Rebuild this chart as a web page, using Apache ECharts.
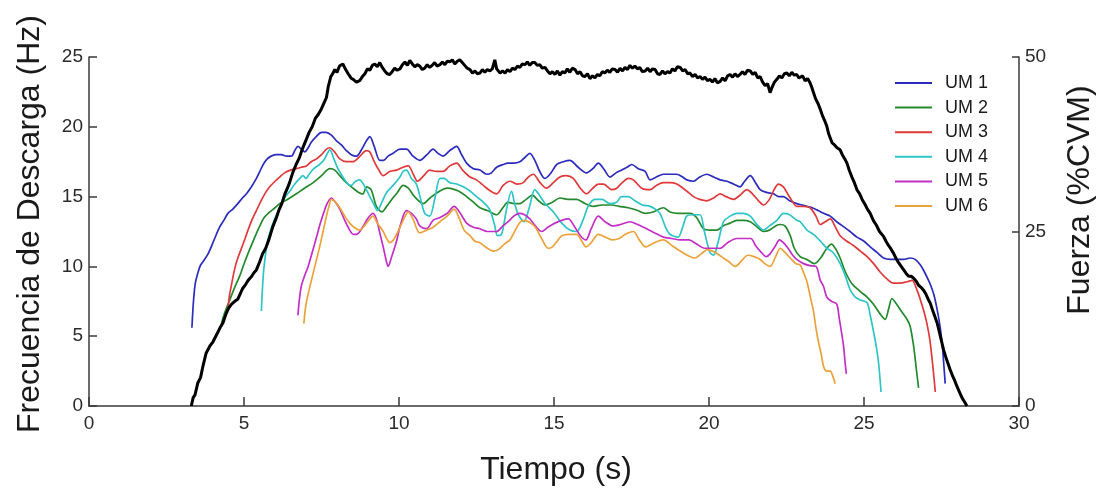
<!DOCTYPE html>
<html>
<head>
<meta charset="utf-8">
<script src="https://cdn.jsdelivr.net/npm/echarts@6/dist/echarts.min.js"></script>
<style>
  html, body { margin: 0; padding: 0; background: #ffffff; }
  #chart { width: 1097px; height: 493px; }
</style>
</head>
<body>
<div id="chart"></div>
<script>
// Motor unit discharge rates (Hz) and force (%CVM) over time (s): [t, value]
const unitNames = ['UM 1', 'UM 2', 'UM 3', 'UM 4', 'UM 5', 'UM 6'];
const unitColors = ['#2b2bbd', '#24892e', '#e0393b', '#2fc4c6', '#c22fc6', '#eaa23a'];

const um1 = [[3.32,5.6],[3.37,7.5],[3.43,8.8],[3.52,9.6],[3.60,10.1],[3.70,10.4],[3.84,10.9],[3.98,11.6],[4.11,12.3],[4.21,12.8],[4.35,13.3],[4.48,13.8],[4.64,14.1],[4.80,14.5],[4.95,14.9],[5.08,15.2],[5.24,15.7],[5.40,16.3],[5.51,16.8],[5.62,17.3],[5.75,17.7],[5.88,17.9],[6.05,18.0],[6.21,18.0],[6.37,17.9],[6.53,17.9],[6.64,18.3],[6.74,18.6],[6.85,18.4],[6.96,18.2],[7.07,18.5],[7.17,18.9],[7.33,19.3],[7.50,19.6],[7.65,19.6],[7.82,19.4],[7.98,19.0],[8.14,18.7],[8.30,18.3],[8.46,18.0],[8.63,17.9],[8.80,18.4],[8.95,19.0],[9.06,19.3],[9.20,18.6],[9.38,17.6],[9.50,17.6],[9.65,17.9],[9.81,18.1],[10.03,18.4],[10.24,18.4],[10.45,17.9],[10.67,17.6],[10.90,18.0],[11.10,18.4],[11.26,18.1],[11.42,17.9],[11.64,18.3],[11.86,18.6],[12.02,18.0],[12.18,17.4],[12.40,17.0],[12.61,16.9],[12.83,16.6],[12.98,16.7],[13.15,17.1],[13.36,17.3],[13.52,17.4],[13.70,17.4],[13.90,17.5],[14.06,17.8],[14.22,18.1],[14.38,17.6],[14.54,16.8],[14.70,16.3],[14.87,16.6],[15.09,17.3],[15.30,17.5],[15.51,17.6],[15.78,17.1],[16.05,16.7],[16.25,17.0],[16.43,17.4],[16.60,17.0],[16.81,16.4],[17.00,16.7],[17.18,16.9],[17.35,17.1],[17.51,17.3],[17.72,17.0],[17.94,16.8],[18.10,16.2],[18.30,16.4],[18.53,16.6],[18.74,16.6],[18.96,16.6],[19.15,16.4],[19.28,16.2],[19.50,16.1],[19.70,16.4],[19.93,16.6],[20.15,16.4],[20.36,16.2],[20.58,16.1],[20.79,15.9],[21.00,15.7],[21.15,16.1],[21.33,16.5],[21.50,16.0],[21.65,15.5],[21.85,15.3],[22.08,15.2],[22.25,15.0],[22.40,15.0],[22.60,14.7],[22.83,14.5],[23.00,14.4],[23.16,14.3],[23.33,14.2],[23.48,14.05],[23.70,13.8],[23.91,13.6],[24.12,13.2],[24.34,12.85],[24.55,12.5],[24.77,12.1],[25.00,11.8],[25.20,11.4],[25.42,11.0],[25.63,10.6],[25.85,10.5],[26.06,10.5],[26.28,10.5],[26.49,10.6],[26.65,10.5],[26.82,10.1],[26.95,9.6],[27.06,9.1],[27.14,8.7],[27.25,8.0],[27.36,6.9],[27.46,5.6],[27.54,4.0],[27.58,2.8],[27.62,1.6]];

const um2 = [[4.27,5.9],[4.35,6.5],[4.45,7.1],[4.54,7.6],[4.70,8.5],[4.86,9.3],[5.02,10.3],[5.18,11.2],[5.35,12.1],[5.51,12.9],[5.65,13.5],[5.83,13.9],[6.00,14.2],[6.15,14.5],[6.40,14.8],[6.69,15.2],[6.95,15.6],[7.23,16.0],[7.50,16.5],[7.77,17.0],[7.93,16.9],[8.09,16.5],[8.30,16.0],[8.52,15.6],[8.70,15.3],[8.84,15.2],[8.95,15.7],[9.10,15.5],[9.27,14.3],[9.45,13.9],[9.60,14.3],[9.80,14.9],[9.95,15.3],[10.13,15.8],[10.30,15.6],[10.50,15.0],[10.78,14.5],[11.00,14.9],[11.32,15.4],[11.55,15.6],[11.80,15.5],[12.00,15.3],[12.18,15.0],[12.40,14.6],[12.61,14.2],[12.85,14.0],[13.15,13.7],[13.35,14.2],[13.52,14.6],[13.70,14.5],[13.90,14.5],[14.10,14.8],[14.30,15.1],[14.50,14.7],[14.71,14.4],[14.95,14.6],[15.19,14.9],[15.45,14.8],[15.73,14.8],[16.00,14.5],[16.27,14.3],[16.55,14.4],[16.86,14.4],[17.10,14.3],[17.40,14.2],[17.70,14.0],[17.94,13.8],[18.20,13.9],[18.53,14.2],[18.74,13.9],[19.00,13.8],[19.39,13.8],[19.60,13.5],[19.82,12.7],[20.03,12.6],[20.25,12.6],[20.45,12.9],[20.68,13.1],[20.90,13.3],[21.11,13.3],[21.33,13.2],[21.54,12.85],[21.76,12.5],[21.95,12.6],[22.15,12.9],[22.30,13.0],[22.45,12.9],[22.62,12.2],[22.75,11.3],[22.94,10.7],[23.16,10.5],[23.40,10.2],[23.60,10.6],[23.80,11.3],[23.95,11.6],[24.10,11.2],[24.23,10.6],[24.40,9.6],[24.60,8.8],[24.88,8.2],[25.10,7.8],[25.30,7.3],[25.52,6.6],[25.68,6.2],[25.80,7.0],[25.90,7.7],[26.05,7.3],[26.20,6.8],[26.39,6.2],[26.49,5.7],[26.60,4.3],[26.68,2.8],[26.76,1.3]];

const um3 = [[4.48,6.9],[4.53,7.9],[4.59,8.6],[4.64,9.2],[4.72,10.0],[4.80,10.6],[4.97,11.6],[5.13,12.6],[5.27,13.4],[5.40,14.0],[5.55,14.7],[5.70,15.3],[5.83,15.7],[6.00,16.1],[6.15,16.4],[6.31,16.7],[6.50,16.9],[6.69,17.0],[6.85,17.1],[7.01,17.2],[7.17,17.5],[7.34,17.7],[7.50,18.0],[7.66,18.4],[7.77,18.5],[7.92,18.2],[8.09,17.7],[8.30,17.5],[8.52,17.5],[8.70,17.8],[8.95,18.3],[9.06,18.2],[9.20,17.5],[9.35,16.9],[9.49,16.5],[9.70,16.8],[9.92,16.9],[10.13,17.1],[10.30,17.2],[10.46,16.6],[10.60,16.1],[10.80,16.5],[10.99,16.9],[11.20,16.8],[11.42,16.8],[11.64,17.2],[11.86,17.4],[12.05,16.9],[12.29,16.4],[12.50,16.2],[12.72,15.8],[12.95,15.4],[13.15,15.2],[13.36,15.8],[13.58,16.1],[13.80,15.9],[14.01,16.0],[14.17,16.4],[14.33,16.6],[14.55,16.0],[14.76,15.6],[14.98,16.0],[15.19,16.4],[15.40,16.5],[15.62,16.3],[15.85,15.6],[16.05,15.2],[16.25,15.6],[16.43,15.9],[16.60,15.9],[16.86,15.5],[17.02,15.6],[17.20,16.0],[17.40,16.3],[17.56,16.2],[17.83,15.6],[18.10,15.5],[18.30,15.8],[18.53,16.0],[18.74,16.0],[18.96,15.9],[19.28,15.4],[19.50,15.0],[19.70,14.8],[19.93,14.7],[20.15,14.9],[20.36,15.2],[20.55,15.0],[20.79,14.8],[21.00,15.1],[21.22,15.5],[21.40,15.2],[21.60,14.7],[21.76,14.4],[21.95,14.8],[22.10,15.5],[22.24,15.9],[22.40,15.7],[22.51,15.3],[22.65,14.8],[22.83,14.3],[23.05,14.3],[23.26,14.2],[23.45,13.6],[23.59,13.0],[23.75,13.2],[23.91,13.4],[24.08,12.8],[24.23,12.2],[24.45,11.8],[24.66,11.5],[24.88,11.1],[25.10,10.7],[25.31,10.2],[25.52,9.6],[25.74,9.1],[25.95,8.8],[26.17,8.8],[26.39,8.9],[26.55,9.0],[26.71,8.3],[26.82,7.6],[26.93,6.8],[27.03,5.9],[27.12,4.8],[27.19,3.5],[27.25,2.2],[27.30,1.0]];

const um4 = [[5.56,6.8],[5.59,8.2],[5.63,9.6],[5.68,10.6],[5.74,11.6],[5.83,12.4],[5.99,13.4],[6.15,14.2],[6.31,14.9],[6.48,15.4],[6.64,15.9],[6.80,16.3],[6.90,16.5],[7.00,16.3],[7.10,16.6],[7.25,17.0],[7.44,17.3],[7.60,17.7],[7.77,18.35],[7.90,17.7],[8.03,17.0],[8.19,16.4],[8.35,15.9],[8.45,15.8],[8.60,16.1],[8.73,16.2],[8.90,15.7],[9.06,15.0],[9.20,14.4],[9.30,14.0],[9.45,14.6],[9.60,15.3],[9.81,15.8],[10.03,16.4],[10.13,16.8],[10.24,16.9],[10.40,16.3],[10.56,15.9],[10.70,14.8],[10.83,13.8],[10.99,13.6],[11.15,14.8],[11.32,16.3],[11.45,16.3],[11.64,16.0],[11.86,15.9],[12.07,15.7],[12.29,15.4],[12.50,15.0],[12.72,14.6],[12.93,14.05],[13.08,13.0],[13.18,12.2],[13.31,12.3],[13.47,14.1],[13.63,15.4],[13.72,14.6],[13.85,13.7],[14.03,13.2],[14.20,14.2],[14.38,15.5],[14.50,15.2],[14.71,14.5],[14.98,13.9],[15.25,13.1],[15.51,12.6],[15.73,12.5],[15.95,13.4],[16.10,14.3],[16.32,14.8],[16.55,14.8],[16.80,14.5],[17.02,14.6],[17.18,15.0],[17.40,15.0],[17.61,14.7],[17.85,14.4],[18.10,14.3],[18.30,14.05],[18.42,13.8],[18.60,12.8],[18.74,12.3],[19.00,12.1],[19.15,12.8],[19.28,13.6],[19.50,13.7],[19.71,13.7],[19.85,12.5],[20.03,11.0],[20.15,10.8],[20.30,11.8],[20.47,13.2],[20.68,13.6],[20.90,13.8],[21.11,13.8],[21.33,13.6],[21.55,13.0],[21.76,12.6],[21.95,12.9],[22.19,13.3],[22.40,13.8],[22.60,13.7],[22.83,13.3],[22.94,13.2],[23.16,12.6],[23.37,12.3],[23.60,11.8],[23.80,11.3],[24.00,11.0],[24.23,10.2],[24.40,9.3],[24.56,8.3],[24.72,7.8],[24.88,7.6],[25.10,7.4],[25.20,6.5],[25.31,5.3],[25.40,4.2],[25.47,3.1],[25.55,1.0]];

const um5 = [[6.74,6.5],[6.78,7.5],[6.85,8.6],[6.95,9.3],[7.07,10.0],[7.20,11.0],[7.34,12.1],[7.45,13.0],[7.55,13.7],[7.68,14.5],[7.82,14.9],[7.95,14.6],[8.09,14.1],[8.25,13.3],[8.41,12.6],[8.52,12.3],[8.63,12.3],[8.84,12.85],[8.98,13.4],[9.16,13.8],[9.27,13.4],[9.38,12.4],[9.50,11.3],[9.60,10.3],[9.65,10.0],[9.75,10.6],[9.92,11.8],[10.05,13.0],[10.24,14.0],[10.40,13.8],[10.56,13.4],[10.67,12.9],[10.89,12.7],[11.10,13.3],[11.32,13.5],[11.55,13.8],[11.78,14.3],[11.95,13.9],[12.18,13.1],[12.40,12.8],[12.61,12.7],[12.85,12.5],[13.15,12.5],[13.35,12.9],[13.52,13.2],[13.70,13.6],[13.88,13.8],[14.05,13.7],[14.22,13.4],[14.40,12.9],[14.60,12.5],[14.80,12.8],[15.03,13.1],[15.25,13.3],[15.46,13.4],[15.65,12.9],[15.85,12.2],[16.03,11.9],[16.20,12.7],[16.43,13.6],[16.65,13.2],[16.91,12.9],[17.15,13.0],[17.45,13.2],[17.70,13.0],[17.99,12.7],[18.25,12.4],[18.53,12.1],[18.80,12.0],[19.07,11.9],[19.35,11.9],[19.60,11.6],[19.85,11.3],[20.10,11.3],[20.36,11.3],[20.60,11.7],[20.90,12.0],[21.15,12.0],[21.35,12.0],[21.50,11.5],[21.65,11.1],[21.85,10.7],[21.97,10.9],[22.15,11.5],[22.27,11.9],[22.40,11.7],[22.55,11.3],[22.70,10.8],[22.83,10.5],[23.05,10.2],[23.26,10.05],[23.45,10.0],[23.59,9.0],[23.69,8.6],[23.80,7.8],[23.95,7.5],[24.12,7.3],[24.20,6.3],[24.28,5.2],[24.34,4.3],[24.40,2.9],[24.43,2.3]];

const um6 = [[6.93,5.9],[6.97,6.8],[7.01,7.4],[7.12,8.5],[7.23,9.5],[7.34,10.5],[7.44,11.4],[7.55,12.5],[7.66,13.6],[7.74,14.3],[7.82,14.8],[7.95,14.6],[8.09,14.2],[8.25,13.6],[8.41,13.1],[8.55,12.8],[8.73,12.6],[8.95,13.1],[9.16,13.6],[9.30,13.1],[9.49,12.5],[9.60,12.0],[9.70,11.7],[9.85,12.0],[10.03,12.8],[10.20,13.6],[10.30,13.9],[10.45,13.4],[10.67,12.4],[10.90,12.6],[11.10,12.8],[11.32,13.2],[11.55,13.6],[11.78,14.1],[11.95,13.4],[12.10,12.6],[12.29,12.2],[12.45,11.8],[12.61,11.7],[12.85,11.3],[13.04,11.1],[13.20,11.2],[13.40,11.6],[13.58,11.9],[13.75,12.6],[13.92,13.2],[14.05,13.3],[14.25,13.1],[14.40,12.8],[14.60,12.0],[14.81,11.3],[14.95,11.4],[15.10,11.8],[15.25,12.2],[15.50,12.3],[15.73,12.3],[15.90,11.8],[16.03,11.4],[16.20,11.7],[16.43,12.3],[16.65,12.1],[16.88,11.9],[17.10,12.0],[17.30,12.3],[17.56,12.5],[17.75,11.9],[17.96,11.4],[18.15,11.6],[18.35,11.8],[18.53,11.9],[18.80,11.5],[19.07,11.1],[19.30,10.8],[19.55,10.6],[19.75,10.9],[19.95,11.2],[20.20,11.0],[20.40,10.7],[20.60,10.4],[20.85,10.0],[21.05,10.4],[21.25,10.8],[21.45,10.7],[21.65,10.5],[21.80,10.2],[21.97,10.0],[22.15,10.7],[22.30,11.3],[22.45,11.0],[22.62,10.6],[22.80,10.2],[22.94,10.1],[23.06,9.5],[23.16,8.9],[23.27,7.8],[23.37,6.8],[23.45,5.6],[23.53,4.6],[23.62,3.7],[23.70,2.8],[23.80,2.5],[23.91,2.5],[24.00,2.1],[24.07,1.6]];

// Force trace, %CVM
const force = [[3.30,0],[3.36,1.2],[3.42,1.6],[3.51,3.3],[3.60,4.1],[3.68,5.8],[3.78,7.6],[3.90,8.6],[4.00,9.2],[4.16,10.6],[4.25,11.4],[4.32,11.9],[4.42,13.2],[4.50,14.0],[4.60,14.6],[4.70,15.0],[4.80,15.3],[4.86,15.9],[4.95,16.8],[5.05,17.4],[5.15,18.1],[5.25,18.6],[5.32,19.1],[5.40,19.5],[5.50,20.6],[5.60,21.8],[5.70,22.6],[5.80,23.8],[5.93,25.7],[6.03,26.8],[6.13,28.1],[6.22,29.0],[6.32,30.4],[6.40,31.2],[6.47,32.0],[6.57,33.4],[6.68,34.6],[6.78,35.5],[6.88,36.8],[7.01,38.2],[7.10,39.2],[7.20,40.0],[7.30,41.2],[7.40,41.8],[7.50,42.6],[7.60,43.6],[7.66,44.2],[7.72,45.8],[7.80,47.2],[7.86,47.6],[7.93,48.2],[8.00,47.8],[8.08,48.7],[8.19,49.0],[8.28,48.2],[8.36,47.6],[8.45,47.0],[8.55,46.7],[8.63,46.4],[8.73,46.6],[8.82,47.2],[8.90,47.6],[8.98,48.3],[9.06,48.1],[9.14,48.8],[9.22,49.0],[9.30,48.6],[9.38,49.2],[9.46,48.5],[9.54,48.0],[9.62,47.6],[9.70,47.5],[9.78,47.9],[9.86,48.4],[9.94,48.1],[10.03,48.3],[10.11,48.9],[10.19,49.3],[10.27,48.8],[10.35,49.5],[10.43,49.0],[10.51,48.6],[10.59,48.9],[10.67,48.7],[10.75,48.2],[10.83,48.4],[10.91,48.9],[10.99,48.5],[11.07,48.8],[11.15,49.2],[11.23,48.7],[11.32,48.9],[11.40,49.3],[11.48,48.9],[11.56,49.4],[11.64,49.3],[11.72,49.6],[11.80,49.0],[11.88,49.4],[11.96,49.6],[12.04,49.2],[12.12,48.8],[12.20,48.4],[12.29,48.2],[12.37,47.7],[12.45,48.0],[12.53,47.6],[12.61,47.7],[12.69,48.2],[12.77,47.8],[12.85,48.2],[12.93,48.0],[13.01,48.3],[13.09,49.6],[13.15,48.3],[13.26,47.7],[13.34,48.0],[13.42,47.7],[13.50,48.2],[13.58,47.9],[13.66,48.4],[13.74,48.2],[13.82,48.7],[13.90,48.5],[13.98,49.0],[14.06,48.9],[14.14,49.3],[14.22,48.8],[14.30,49.2],[14.38,49.2],[14.46,48.8],[14.54,48.9],[14.62,48.4],[14.71,48.5],[14.79,48.0],[14.87,47.6],[14.95,47.9],[15.03,47.5],[15.11,48.0],[15.19,47.4],[15.27,47.9],[15.35,47.7],[15.43,48.3],[15.51,47.8],[15.59,48.4],[15.68,48.2],[15.76,47.6],[15.84,47.9],[15.92,47.3],[16.00,47.2],[16.08,47.6],[16.16,46.9],[16.24,47.3],[16.32,47.0],[16.40,47.5],[16.48,47.3],[16.56,47.9],[16.64,47.7],[16.72,48.1],[16.80,47.8],[16.88,48.3],[16.97,48.2],[17.05,47.8],[17.13,48.4],[17.21,48.0],[17.29,48.5],[17.37,48.2],[17.45,48.8],[17.53,48.4],[17.61,48.7],[17.69,48.3],[17.77,48.5],[17.85,47.9],[17.94,48.0],[18.02,48.4],[18.10,47.9],[18.18,48.3],[18.26,48.2],[18.34,47.6],[18.42,47.5],[18.50,48.0],[18.58,47.6],[18.66,47.9],[18.74,47.7],[18.82,48.3],[18.90,48.0],[18.98,48.6],[19.07,48.5],[19.15,48.0],[19.23,48.2],[19.31,47.6],[19.39,47.7],[19.47,47.2],[19.55,47.5],[19.63,47.0],[19.71,47.2],[19.79,46.8],[19.87,47.1],[19.95,46.6],[20.03,46.8],[20.11,46.4],[20.19,46.9],[20.27,46.3],[20.36,46.5],[20.44,47.0],[20.52,46.6],[20.60,47.3],[20.68,47.5],[20.76,47.1],[20.84,47.6],[20.92,47.2],[21.00,47.5],[21.08,47.9],[21.16,47.5],[21.24,48.1],[21.33,48.0],[21.41,47.5],[21.49,47.8],[21.57,47.0],[21.65,47.2],[21.73,46.4],[21.81,45.9],[21.89,46.2],[21.97,44.9],[22.03,45.6],[22.11,46.4],[22.19,46.8],[22.27,47.3],[22.35,47.0],[22.43,47.6],[22.51,47.7],[22.59,47.3],[22.67,47.8],[22.75,47.4],[22.83,47.5],[22.90,47.0],[22.94,46.8],[23.02,47.3],[23.10,46.6],[23.18,46.9],[23.26,46.3],[23.32,45.6],[23.37,44.9],[23.44,44.0],[23.52,43.3],[23.59,42.5],[23.66,41.6],[23.73,40.9],[23.80,40.1],[23.86,39.0],[23.92,38.3],[23.97,37.7],[24.05,37.4],[24.13,37.0],[24.23,36.7],[24.30,36.0],[24.38,35.4],[24.45,34.8],[24.53,33.7],[24.61,32.8],[24.69,32.0],[24.77,31.0],[24.86,30.4],[24.94,29.6],[25.03,28.9],[25.11,28.2],[25.20,27.6],[25.30,26.6],[25.40,25.9],[25.50,25.0],[25.63,24.3],[25.71,23.6],[25.79,23.0],[25.87,22.5],[25.95,21.9],[26.04,21.1],[26.12,20.5],[26.20,20.0],[26.28,19.5],[26.36,19.0],[26.44,18.6],[26.52,18.6],[26.60,18.3],[26.68,17.9],[26.76,17.3],[26.84,17.0],[26.92,16.6],[27.00,16.0],[27.07,15.3],[27.14,14.7],[27.20,13.9],[27.28,12.9],[27.36,11.9],[27.43,10.6],[27.50,9.3],[27.57,8.0],[27.64,7.0],[27.71,6.1],[27.78,5.2],[27.85,4.4],[27.92,3.7],[28.00,2.8],[28.08,2.0],[28.16,1.2],[28.24,0.6],[28.32,0]];

const unitSeries = [um1, um2, um3, um4, um5, um6];

const FONT = '"Liberation Sans", Arial, sans-serif';
const axisColor = '#3a3a3a';
const labelStyle = { color: '#2a2a2a', fontSize: 19, fontFamily: FONT };
const titleFont = '32px "Liberation Sans", Arial, sans-serif';
const titleColor = '#1a1a1a';

const chart = echarts.init(document.getElementById('chart'), null, { renderer: 'canvas' });

const series = unitSeries.map((data, i) => ({
  name: unitNames[i],
  type: 'line',
  data: data,
  yAxisIndex: 0,
  symbol: 'none',
  smooth: 0.3,
  lineStyle: { color: unitColors[i], width: 1.7 },
  itemStyle: { color: unitColors[i] },
  z: 3
}));

series.push({
  name: 'Fuerza',
  type: 'line',
  data: force,
  yAxisIndex: 1,
  symbol: 'none',
  lineStyle: { color: '#000000', width: 3 },
  itemStyle: { color: '#000000' },
  z: 4
});

chart.setOption({
  animation: false,
  backgroundColor: '#ffffff',
  grid: { left: 89, right: 78, top: 57, bottom: 87, containLabel: false },
  legend: {
    data: unitNames,
    orient: 'vertical',
    left: 895,
    top: 73,
    padding: 0,
    itemGap: 4.6,
    itemWidth: 37,
    itemHeight: 2,
    icon: 'rect',
    textStyle: { color: '#1a1a1a', fontSize: 18, fontFamily: FONT, lineHeight: 20, padding: [0, 0, 0, 8] }
  },
  // Axis titles
  graphic: [
    {
      type: 'text', x: 30, y: 224, rotation: Math.PI / 2,
      style: { text: 'Frecuencia de Descarga (Hz)', font: titleFont, fill: titleColor, textAlign: 'center', textVerticalAlign: 'middle' }
    },
    {
      type: 'text', x: 1080, y: 200, rotation: Math.PI / 2,
      style: { text: 'Fuerza (%CVM)', font: titleFont, fill: titleColor, textAlign: 'center', textVerticalAlign: 'middle' }
    },
    {
      type: 'text', x: 556, y: 470,
      style: { text: 'Tiempo (s)', font: titleFont, fill: titleColor, textAlign: 'center', textVerticalAlign: 'middle' }
    }
  ],
  xAxis: {
    type: 'value',
    min: 0, max: 30, interval: 5,
    axisLine: { show: true, lineStyle: { color: axisColor, width: 1.5 } },
    axisTick: { show: true, inside: true, length: 9, lineStyle: { color: axisColor, width: 1.5 } },
    axisLabel: Object.assign({ margin: 8 }, labelStyle),
    splitLine: { show: false }
  },
  yAxis: [
    {
      type: 'value',
      min: 0, max: 25, interval: 5,
      axisLine: { show: true, lineStyle: { color: axisColor, width: 1.5 } },
      axisTick: { show: true, inside: true, length: 8, lineStyle: { color: axisColor, width: 1.5 } },
      axisLabel: Object.assign({ margin: 6 }, labelStyle),
      splitLine: { show: false }
    },
    {
      type: 'value',
      position: 'right',
      min: 0, max: 50, interval: 25,
      axisLine: { show: true, lineStyle: { color: axisColor, width: 1.5 } },
      axisTick: { show: true, inside: true, length: 7, lineStyle: { color: axisColor, width: 1.5 } },
      axisLabel: Object.assign({ margin: 6 }, labelStyle),
      splitLine: { show: false }
    }
  ],
  series: series
});
</script>
</body>
</html>
